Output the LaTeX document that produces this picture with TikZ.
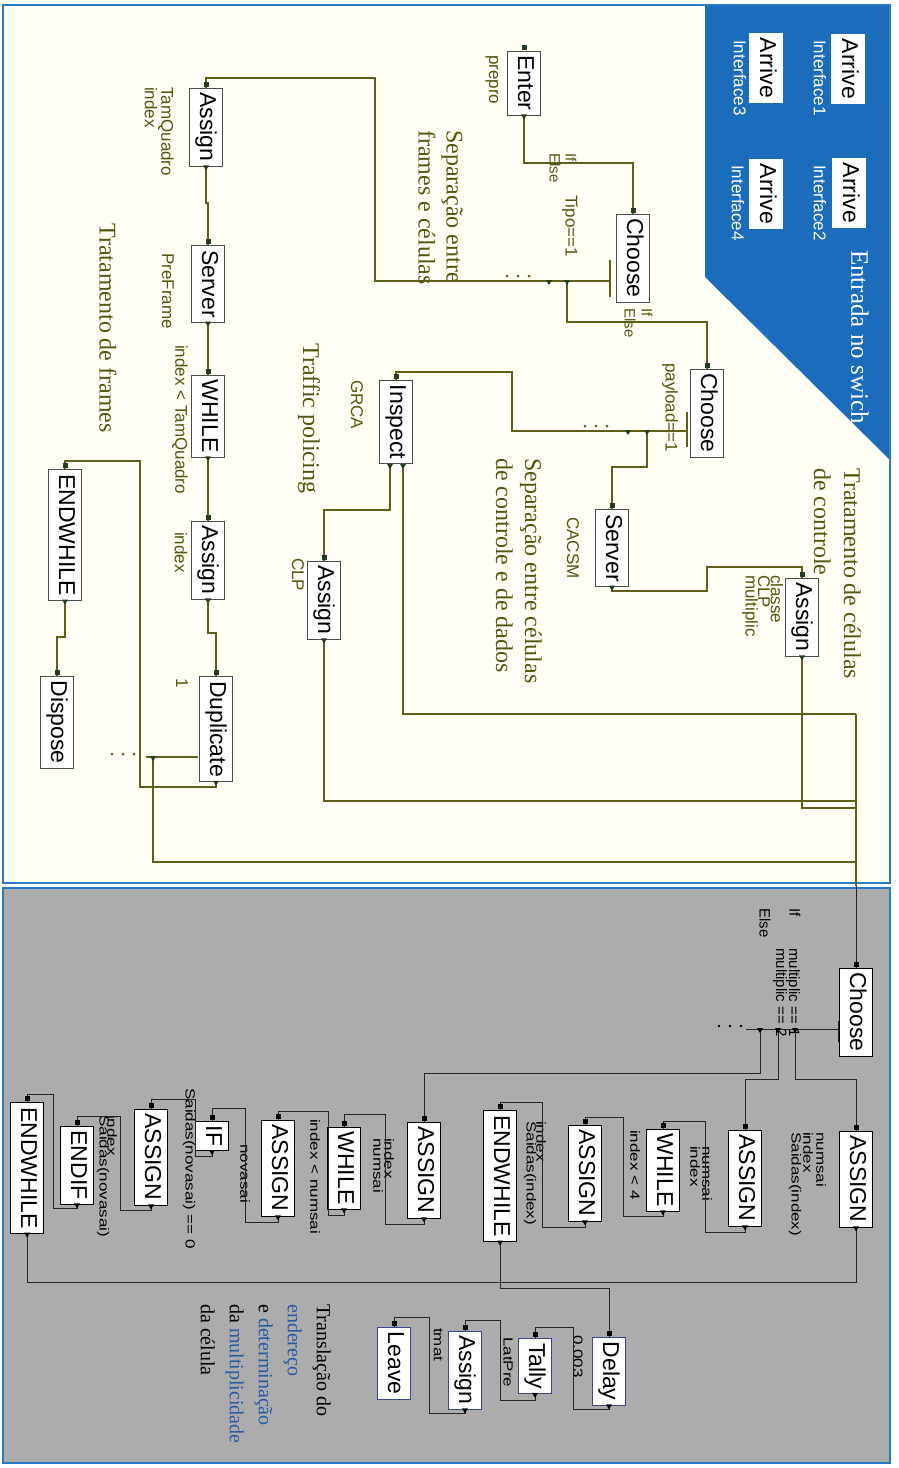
\documentclass[tikz,border=0pt]{standalone}
\usepackage{graphicx}
\usepackage{fontspec}
\setmainfont{Liberation Serif}
\setsansfont{Liberation Sans}
\definecolor{olv}{RGB}{85,85,15}
\definecolor{tln}{RGB}{95,95,25}
\definecolor{pblue}{RGB}{40,120,200}
\definecolor{dblue}{RGB}{28,108,188}
\definecolor{bgray}{RGB}{172,172,172}
\definecolor{topbg}{RGB}{255,255,245}
\definecolor{boxb}{RGB}{60,70,140}
\definecolor{wblue}{RGB}{40,90,165}
\definecolor{sqt}{RGB}{35,60,30}
\newcommand{\cmpr}[1]{\scalebox{1}[0.78]{#1}}
\begin{document}
\begin{tikzpicture}[x=1pt,y=-1pt,
  blk/.style={draw=black!70,line width=0.7pt,fill=white,rotate=-90,
    font=\sffamily\fontsize{23}{23}\selectfont,text height=16.5pt,text depth=4.5pt,
    inner ysep=6pt,inner xsep=4.5pt,text=black},
  bblk/.style={blk,draw=black},
  vblk/.style={blk,draw=boxb},
  lb/.style={rotate=-90,inner sep=0pt,anchor=west,font=\sffamily\fontsize{17}{17}\selectfont,text=olv},
  sl/.style={lb,font=\sffamily\fontsize{15}{15}\selectfont},
  bl/.style={lb,text=black},
  bsl/.style={sl,text=black},
  ttl/.style={rotate=-90,inner sep=0pt,anchor=west,font=\rmfamily\fontsize{24}{28}\selectfont,text=olv},
  tc/.style={draw=tln,line width=1.1pt},
  bc/.style={draw=black!85,line width=0.9pt}]
\useasboundingbox (0,0) rectangle (898,1468);
\fill[white] (0,0) rectangle (898,1468);
% panels
\fill[topbg] (3,5) rectangle (890,883);
\fill[dblue] (705,6) -- (889,6) -- (889,459) -- (705,277) -- cycle;
\draw[pblue,line width=2pt] (3,5) rectangle (890,883);
\fill[bgray] (3,888) rectangle (890,1463);
\draw[pblue,line width=2pt] (3,888) rectangle (890,1463);

% blue entry area
\node[blk,draw=white] (arr1) at (848,69) {Arrive};
\node[blk,draw=white] (arr2) at (849,193) {Arrive};
\node[blk,draw=white] (arr3) at (766,68) {Arrive};
\node[blk,draw=white] (arr4) at (766,194) {Arrive};
\node[lb,text=white] (if1) at (820,40) {Interface1};
\node[lb,text=white] (if2) at (820,165) {Interface2};
\node[lb,text=white] (if3) at (740,40) {Interface3};
\node[lb,text=white] (if4) at (738,165) {Interface4};
\node[ttl,text=white,font=\rmfamily\fontsize{25}{25}\selectfont] (tent) at (860,250) {Entrada no swich};

% top panel blocks
\node[blk] (enter) at (524,83) {Enter};
\node[blk] (choose1) at (633,258) {Choose};
\node[blk] (choose2) at (707,413) {Choose};
\node[blk] (server1) at (612,548) {Server};
\node[blk] (assignC) at (802,617) {Assign};
\node[blk] (inspect) at (396,422) {Inspect};
\node[blk] (assignCLP) at (324,600) {Assign};
\node[blk] (assignF) at (206,127) {Assign};
\node[blk] (serverF) at (208,284) {Server};
\node[blk] (whileF) at (208,416) {WHILE};
\node[blk] (assignI) at (208,560) {Assign};
\node[blk] (dup) at (216,729) {Duplicate};
\node[blk] (endwF) at (65,535) {ENDWHILE};
\node[blk] (dispose) at (57,722) {Dispose};

% top labels
\node[lb] (lprepro) at (492,55) {prepro};
\node[sl] (lifa) at (571,153) {If};
\node[sl] (lelsea) at (555,153) {Else};
\node[lb] (ltipo) at (570,195) {Tipo==1};
\node[sl] (lifb) at (647,308) {If};
\node[sl] (lelseb) at (630,308) {Else};
\node[lb] (lpay) at (670,363) {payload==1};
\node[lb] (lcacsm) at (573,517) {CACSM};
\node[lb] (lcla) at (777,575) {classe};
\node[lb] (lclb) at (764,575) {CLP};
\node[lb] (lclc) at (750,575) {multiplic};
\node[lb] (ltq) at (166,87) {TamQuadro};
\node[lb] (lidxa) at (151,87) {index};
\node[lb] (lpre) at (168,253) {PreFrame};
\node[lb] (lcond) at (180,345) {index < TamQuadro};
\node[lb] (lidxb) at (181,532) {index};
\node[lb] (lone) at (182,678) {1};
\node[lb] (lgrca) at (357,380) {GRCA};
\node[lb] (lclp) at (298,558) {CLP};

% titles
\node[ttl,anchor=north west,align=left] (tsepa) at (463,130) {Separação entre\\frames e células};
\node[ttl] (ttraf) at (309,343) {Traffic policing};
\node[ttl] (tfram) at (108,223) {Tratamento de frames};
\node[ttl,anchor=north west,align=left,font=\rmfamily\fontsize{24}{29}\selectfont] (tsepb) at (542,458) {Separação entre células\\de controle e de dados};
\node[ttl,anchor=north west,align=left,font=\rmfamily\fontsize{24}{30}\selectfont] (tcel) at (861,468) {Tratamento de células\\de controle};

% bottom panel blocks
\node[bblk] (chooseB) at (856,1012) {Choose};
\node[bblk] (as1) at (856,1179) {ASSIGN};
\node[bblk] (as2) at (745,1178) {ASSIGN};
\node[bblk] (while2) at (663,1170) {WHILE};
\node[bblk] (as6) at (585,1173) {ASSIGN};
\node[bblk] (endw2) at (500,1176) {ENDWHILE};
\node[bblk] (as3) at (424,1170) {ASSIGN};
\node[bblk] (while3) at (344,1168) {WHILE};
\node[bblk] (as4) at (278,1168) {ASSIGN};
\node[bblk] (ifb) at (212,1136) {IF};
\node[bblk] (as5) at (151,1157) {ASSIGN};
\node[bblk] (endif) at (77,1165) {ENDIF};
\node[bblk] (endw3) at (27,1168) {ENDWHILE};
\node[vblk] (delay) at (609,1371) {Delay};
\node[vblk] (tally) at (535,1366) {Tally};
\node[vblk] (assignT) at (465,1370) {Assign};
\node[vblk] (leave) at (394,1363) {Leave};

% bottom labels
\node[bsl] (lifc) at (795,908) {If};
\node[bsl] (lelsec) at (765,908) {Else};
\node[bsl] (lmua) at (793,948) {multiplic == 1};
\node[bsl] (lmub) at (780,948) {multiplic == 2};
\node[bl] (la1a) at (821,1132) {\cmpr{numsai}};
\node[bl] (la1b) at (808,1132) {\cmpr{index}};
\node[bl] (la1c) at (795,1132) {\cmpr{Saidas(index)}};
\node[bl] (la2a) at (707,1146) {\cmpr{numsai}};
\node[bl] (la2b) at (695,1146) {\cmpr{index}};
\node[bl] (lw2) at (635,1130) {\cmpr{index < 4}};
\node[bl] (la6a) at (541,1121) {\cmpr{index}};
\node[bl] (la6b) at (530,1121) {\cmpr{Saidas(index)}};
\node[bl] (la3a) at (389,1138) {\cmpr{index}};
\node[bl] (la3b) at (378,1138) {\cmpr{numsai}};
\node[bl] (lw3) at (315,1119) {\cmpr{index < numsai}};
\node[bl] (la4) at (245,1144) {\cmpr{novasai}};
\node[bl] (lifcond) at (189,1088) {\cmpr{Saidas(novasai) == 0}};
\node[bl] (la5a) at (112,1115) {\cmpr{index}};
\node[bl] (la5b) at (103,1115) {\cmpr{Saidas(novasai)}};
\node[bl] (ldel) at (578,1335) {\cmpr{0.003}};
\node[bl] (ltal) at (508,1337) {\cmpr{LatPre}};
\node[bl] (ltm) at (438,1328) {\cmpr{tmat}};
\node[rotate=-90,anchor=north west,inner sep=0pt,align=left,font=\rmfamily\fontsize{20}{29}\selectfont] (ttrans) at (331,1304)
  {Translação do\\{\color{wblue}endereço}\\e {\color{wblue}determinação}\\da {\color{wblue}multiplicidade}\\da célula};

% ---------- top connectors
\coordinate (c1bar) at (610,281);
\coordinate (c1a) at (549,281);
\coordinate (c1b) at (567,281);
\coordinate (c2bar) at (687,431);
\coordinate (c2a) at (628,431);
\coordinate (c2b) at (647,431);
\coordinate (insp1) at (390,465);
\coordinate (insp2) at (403,465);
\coordinate (dupL) at (198,757);
\coordinate (dupT) at (153,757);
\draw[tc] (enter.east) -- (enter.east |- 0,163) -| (choose1.west);
\draw[tc] (c1bar) ++(0,-21) -- ++(0,37);
\draw[tc] (c1bar) -- (375,281) -- (375,78) -| (assignF.west);
\draw[tc] (c1b) -- (567,322) -| (choose2.west);
\draw[tc] (c2bar) ++(0,-19) -- ++(0,35);
\draw[tc] (c2bar) -- (512,431) -- (512,372) -| (inspect.west);
\draw[tc] (c2b) -- (647,467) -| (server1.west);
\draw[tc] (server1.east) -- (server1.east |- 0,591) -- (707,591) -- (707,567) -| (assignC.west);
\draw[tc] (assignC.east) |- (chooseB.west |- 0,808);
\draw[tc] (insp1) -- (390,510) -| (assignCLP.west);
\draw[tc] (insp2) |- (chooseB.west |- 0,714);
\draw[tc] (assignCLP.east) |- (chooseB.west |- 0,801);
\draw[tc] (chooseB.west |- 0,714) -- (chooseB.west |- 0,886);
\draw[tc] (assignF.east) -- (206,203) -| (serverF.west);
\draw[tc] (serverF.east) -- (whileF.west);
\draw[tc] (whileF.east) -- (assignI.west);
\draw[tc] (assignI.east) -- (assignI.east |- 0,633) -| (dup.west);
\draw[tc] (dupL) -- (146,757);
\draw[tc] (dupT) |- (chooseB.west |- 0,862);
\draw[tc] (dup.east) -- (dup.east |- 0,787) -- (140,787) -- (140,461) -| (endwF.west);
\draw[tc] (endwF.east) -- (endwF.east |- 0,637) -| (dispose.west);
\foreach \d in {0,11,22} {
  \fill[tln] (507+\d,276) circle (1.5);
  \fill[tln] (585+\d,426) circle (1.5);
  \fill[tln] (112+\d,754) circle (1.5);
}

% ---------- bottom connectors
\coordinate (c3bar) at (838,1029);
\coordinate (c3a) at (795,1029);
\coordinate (c3b) at (778,1029);
\coordinate (c3c) at (760,1029);
\draw[bc] (chooseB.west |- 0,886) -- (chooseB.west);
\draw[bc] (c3bar) ++(0,-8) -- ++(0,21);
\draw[bc] (c3bar) -- (746,1029);
\draw[bc] (c3a) -- (795,1079) -| (as1.west);
\draw[bc] (c3b) -- (778,1079) -| (as2.west);
\draw[bc] (c3c) -- (760,1073) -| (as3.west);
\draw[bc] (as2.east) -- (as2.east |- 0,1232) -- (705,1232) -- (705,1121) -| (while2.west);
\draw[bc] (while2.east) -- (while2.east |- 0,1216) -- (623,1216) -- (623,1117) -| (as6.west);
\draw[bc] (as6.east) -- (as6.east |- 0,1227) -- (542,1227) -- (542,1102) -| (endw2.west);
\draw[bc] (endw2.east) -- (endw2.east |- 0,1288) -| (delay.west);
\draw[bc] (as1.east) |- (endw3.east |- 0,1282) -- (endw3.east);
\draw[bc] (as3.east) -- (as3.east |- 0,1224) -- (385,1224) -- (385,1114) -| (while3.west);
\draw[bc] (while3.east) -- (while3.east |- 0,1215) -- (328,1215) -- (328,1111) -| (as4.west);
\draw[bc] (as4.east) -- (as4.east |- 0,1222) -- (245,1222) -- (245,1108) -| (ifb.west);
\draw[bc] (ifb.east) -- (ifb.east |- 0,1156) -- (195,1156) -- (195,1099) -| (as5.west);
\draw[bc] (as5.east) -- (as5.east |- 0,1210) -- (120,1210) -- (120,1116) -| (endif.west);
\draw[bc] (endif.east) -- (endif.east |- 0,1208) -- (53,1208) -- (53,1094) -| (endw3.west);
\draw[bc] (delay.east) -- (delay.east |- 0,1409) -- (573,1409) -- (573,1327) -| (tally.west);
\draw[bc] (tally.east) -- (tally.east |- 0,1400) -- (500,1400) -- (500,1320) -| (assignT.west);
\draw[bc] (assignT.east) -- (assignT.east |- 0,1413) -- (429,1413) -- (429,1317) -| (leave.west);
\foreach \d in {0,11,22} \fill[black] (719+\d,1026) circle (1.4);

% ---------- markers
\foreach \n in {enter,choose1,choose2,server1,assignC,inspect,assignCLP,assignF,serverF,whileF,assignI,dup,endwF,dispose}
  \fill[sqt] (\n.west) ++(-2.5,-1) rectangle ++(5,-5);
\foreach \n in {enter,server1,assignC,assignCLP,assignF,serverF,whileF,assignI,dup,endwF}
  \fill[sqt] (\n.east) ++(-3,-1) -- ++(6,0) -- ++(-3,5) -- cycle;
\foreach \c in {c1a,c1b,c2a,c2b,insp1,insp2,dupT}
  \fill[sqt] (\c) ++(-3,-1) -- ++(6,0) -- ++(-3,5) -- cycle;
\foreach \n in {chooseB,as1,as2,as3,as4,as5,as6,while2,while3,endw2,endw3,ifb,endif,delay,tally,assignT,leave}
  \fill[black] (\n.west) ++(-2.5,-1) rectangle ++(5,-5);
\foreach \n in {as1,as2,as3,as4,as5,as6,while2,while3,endw2,endw3,ifb,endif,delay,tally,assignT}
  \fill[black] (\n.east) ++(-3,-1) -- ++(6,0) -- ++(-3,5) -- cycle;
\foreach \c in {c3a,c3b,c3c}
  \fill[black] (\c) ++(-3,-1) -- ++(6,0) -- ++(-3,5) -- cycle;
\end{tikzpicture}
\end{document}
